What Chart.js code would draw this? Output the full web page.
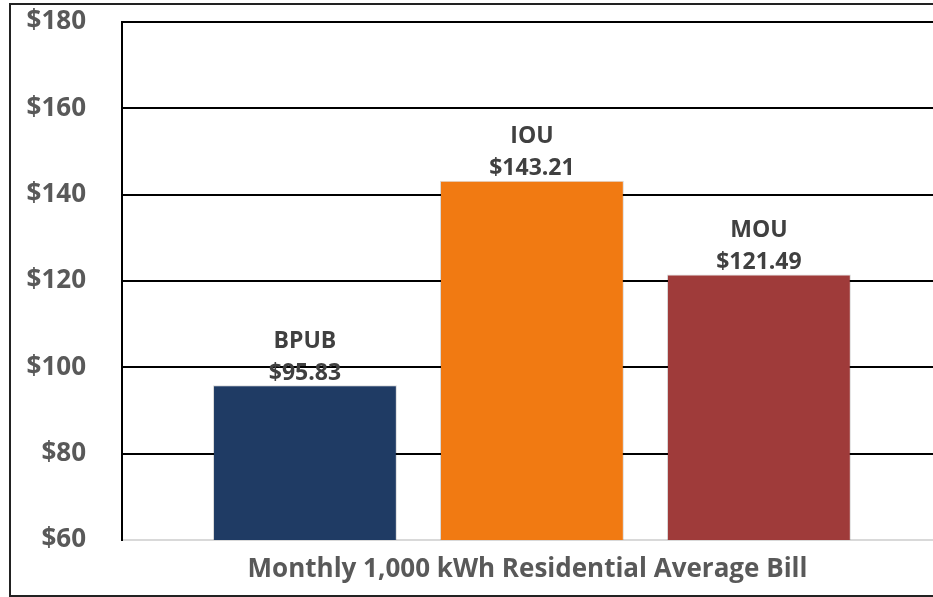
<!DOCTYPE html>
<html>
<head>
<meta charset="utf-8">
<script src="https://cdn.jsdelivr.net/npm/chart.js@4"></script>
<style>
  html, body { margin: 0; padding: 0; background: #fff; }
  #wrap { position: relative; width: 933px; height: 597px; overflow: hidden; }
  #frame {
    position: absolute; left: 9px; top: 3px; width: 1000px; height: 590px;
    border: 2px solid #222; pointer-events: none;
  }
  canvas { position: absolute; left: 0; top: 0; }
</style>
</head>
<body>
<div id="wrap">
  <canvas id="billChart" width="933" height="597"></canvas>
  <div id="frame"></div>
</div>
<script>
const categories = ['BPUB', 'IOU', 'MOU'];
const avgBill = [95.83, 143.21, 121.49];
const barColors = ['#1f3b64', '#f17a12', '#9f3b3a'];
const yTicks = [60, 80, 100, 120, 140, 160, 180];
const axisTitle = 'Monthly 1,000 kWh Residential Average Bill';

const FONT = "'Open Sans', 'DejaVu Sans', sans-serif";

// two-line label over each bar: name, then price
const barLabels = {
    id: 'barLabels',
    afterDatasetsDraw(chart) {
        const ctx = chart.ctx;
        const meta = chart.getDatasetMeta(0);
        ctx.save();
        ctx.fillStyle = '#404040';
        ctx.font = `bold 23px ${FONT}`;
        ctx.textAlign = 'center';
        ctx.textBaseline = 'middle';
        meta.data.forEach((bar, i) => {
            ctx.fillText(categories[i], bar.x, bar.y - 44);
            ctx.fillText('$' + avgBill[i].toFixed(2), bar.x, bar.y - 12);
        });
        ctx.restore();
    }
};

const ctx = document.getElementById('billChart').getContext('2d');
new Chart(ctx, {
    type: 'bar',
    data: {
        datasets: [{
            data: avgBill.map((v, i) => ({ x: i, y: v })),
            backgroundColor: barColors,
            borderColor: 'rgba(0,0,0,0.15)',
            borderWidth: 1,
            barPercentage: 0.81,
            categoryPercentage: 1.0
        }]
    },
    options: {
        responsive: false,
        animation: false,
        layout: { padding: { top: 22, right: 0, left: 0, bottom: 12 } },
        plugins: {
            legend: { display: false },
            tooltip: { enabled: false }
        },
        scales: {
            x: {
                type: 'linear',
                offset: false,
                min: -0.806,
                max: 2.767,
                afterBuildTicks(scale) { scale.ticks = categories.map((c, i) => ({ value: i })); },
                ticks: { display: false },
                grid: { display: false, offset: false },
                border: { display: true, color: '#d9d9d9', width: 2 },
                title: {
                    display: true,
                    text: axisTitle,
                    color: '#595959',
                    font: { family: FONT, size: 26, weight: 'bold' },
                    padding: { top: 0, bottom: 0 }
                },
                afterFit(scale) { scale.height = 45; scale.paddingLeft = 0; scale.paddingRight = 0; }
            },
            y: {
                min: yTicks[0],
                max: yTicks[yTicks.length - 1],
                afterBuildTicks(scale) { scale.ticks = yTicks.map(v => ({ value: v })); },
                ticks: {
                    color: '#595959',
                    font: { family: FONT, size: 26, weight: 'bold' },
                    padding: 36,
                    callback: v => '$' + v
                },
                grid: {
                    color: c => (c.tick && c.tick.value === 60) ? '#d9d9d9' : '#000',
                    lineWidth: 2,
                    drawTicks: false
                },
                border: { display: true, color: '#000', width: 2 },
                afterFit(scale) { scale.width = 122; scale.paddingTop = 0; scale.paddingBottom = 0; }
            }
        }
    },
    plugins: [barLabels]
});
</script>
</body>
</html>
